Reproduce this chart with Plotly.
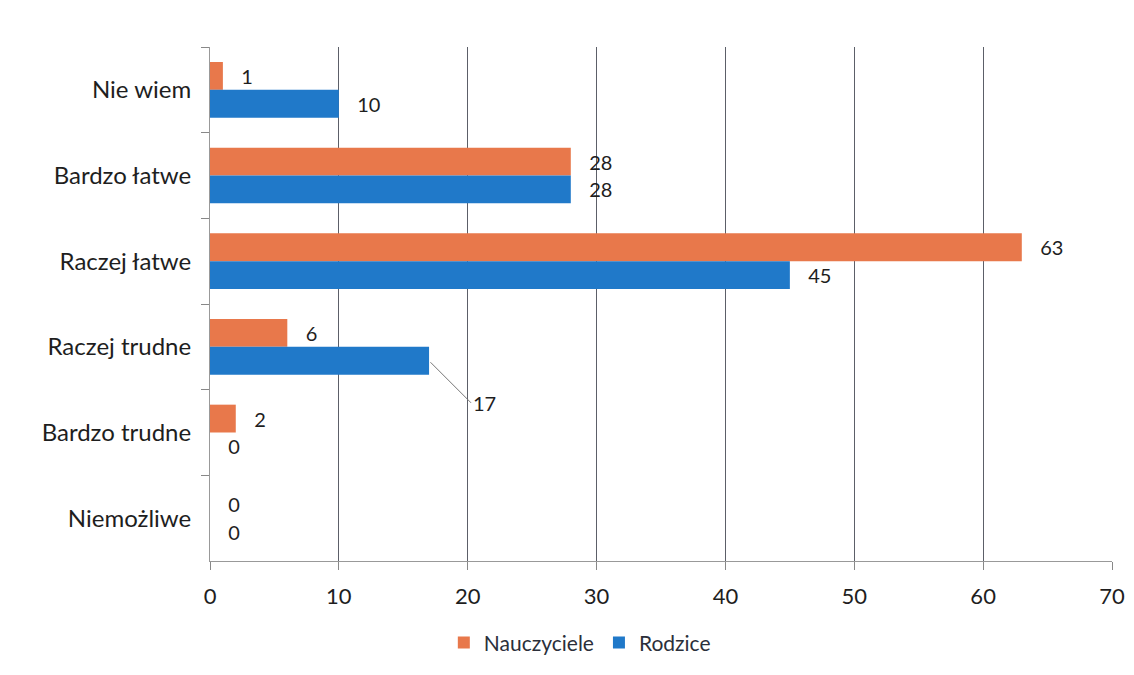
import plotly.graph_objects as go

categories = ["Nie wiem", "Bardzo łatwe", "Raczej łatwe", "Raczej trudne", "Bardzo trudne", "Niemożliwe"]
nauczyciele = [1, 28, 63, 6, 2, 0]
rodzice = [10, 28, 45, 17, 0, 0]
x_ticks = [0, 10, 20, 30, 40, 50, 60, 70]

ORANGE = "#E8784B"
BLUE = "#2079C9"
FONT = "Lato, 'Open Sans', sans-serif"
PAD = "   "  # gap between bar end and its value label

# The Rodzice "17" label is drawn with a leader line, as in the reference
leader_cat = "Raczej trudne"
naucz_text = [PAD + str(v) for v in nauczyciele]
rodz_text = [PAD + str(v) if c != leader_cat else "" for c, v in zip(categories, rodzice)]

fig = go.Figure()
fig.add_trace(go.Bar(
    y=categories, x=nauczyciele, orientation="h", name="Nauczyciele",
    marker=dict(color=ORANGE, line=dict(width=0)),
    text=naucz_text, textposition="outside",
    textfont=dict(size=20, color="#1e1e1e", family=FONT), cliponaxis=False,
))
fig.add_trace(go.Bar(
    y=categories, x=rodzice, orientation="h", name="Rodzice",
    marker=dict(color=BLUE, line=dict(width=0)),
    text=rodz_text, textposition="outside",
    textfont=dict(size=20, color="#1e1e1e", family=FONT), cliponaxis=False,
))

idx = categories.index(leader_cat)
fig.add_annotation(
    x=rodzice[idx], y=categories[idx], yshift=-14,
    text=str(rodzice[idx]), showarrow=True, arrowhead=0, arrowwidth=1,
    arrowcolor="#777", ax=42, ay=42, xanchor="left", standoff=2,
    font=dict(size=20, color="#1e1e1e", family=FONT),
)

# page body has an 8px margin, so the figure is 8px smaller than the window
fig.update_layout(
    width=1126, height=667,
    paper_bgcolor="white", plot_bgcolor="white",
    margin=dict(l=202, r=22, t=39, b=112),
    barmode="group", bargap=0.35, bargroupgap=0.0,
    font=dict(family=FONT, color="#1e1e1e"),
    showlegend=True,
    legend=dict(orientation="h", x=0.41, xanchor="center", y=-0.159, yanchor="middle",
                traceorder="normal", font=dict(size=21, color="#2b2f3a", family=FONT),
                itemwidth=30),
)
fig.update_xaxes(
    range=[0, 70], tickvals=x_ticks, ticktext=[str(t) for t in x_ticks],
    showgrid=True, gridcolor="#5c5f68", gridwidth=1,
    showline=True, linecolor="#999", linewidth=1,
    ticks="outside", ticklen=8, tickcolor="#888",
    ticklabelstandoff=8, automargin=False,
    tickfont=dict(size=22, color="#1e1e1e", family=FONT), zeroline=False,
)
fig.update_yaxes(
    type="category", categoryorder="array", categoryarray=categories,
    autorange="reversed", tickson="boundaries",
    showline=True, linecolor="#999", linewidth=1,
    ticks="outside", ticklen=8, tickcolor="#888",
    showgrid=False, ticklabelstandoff=13, automargin=False,
    tickfont=dict(size=24, color="#1e1e1e", family=FONT),
)

fig.write_html("out.html")
